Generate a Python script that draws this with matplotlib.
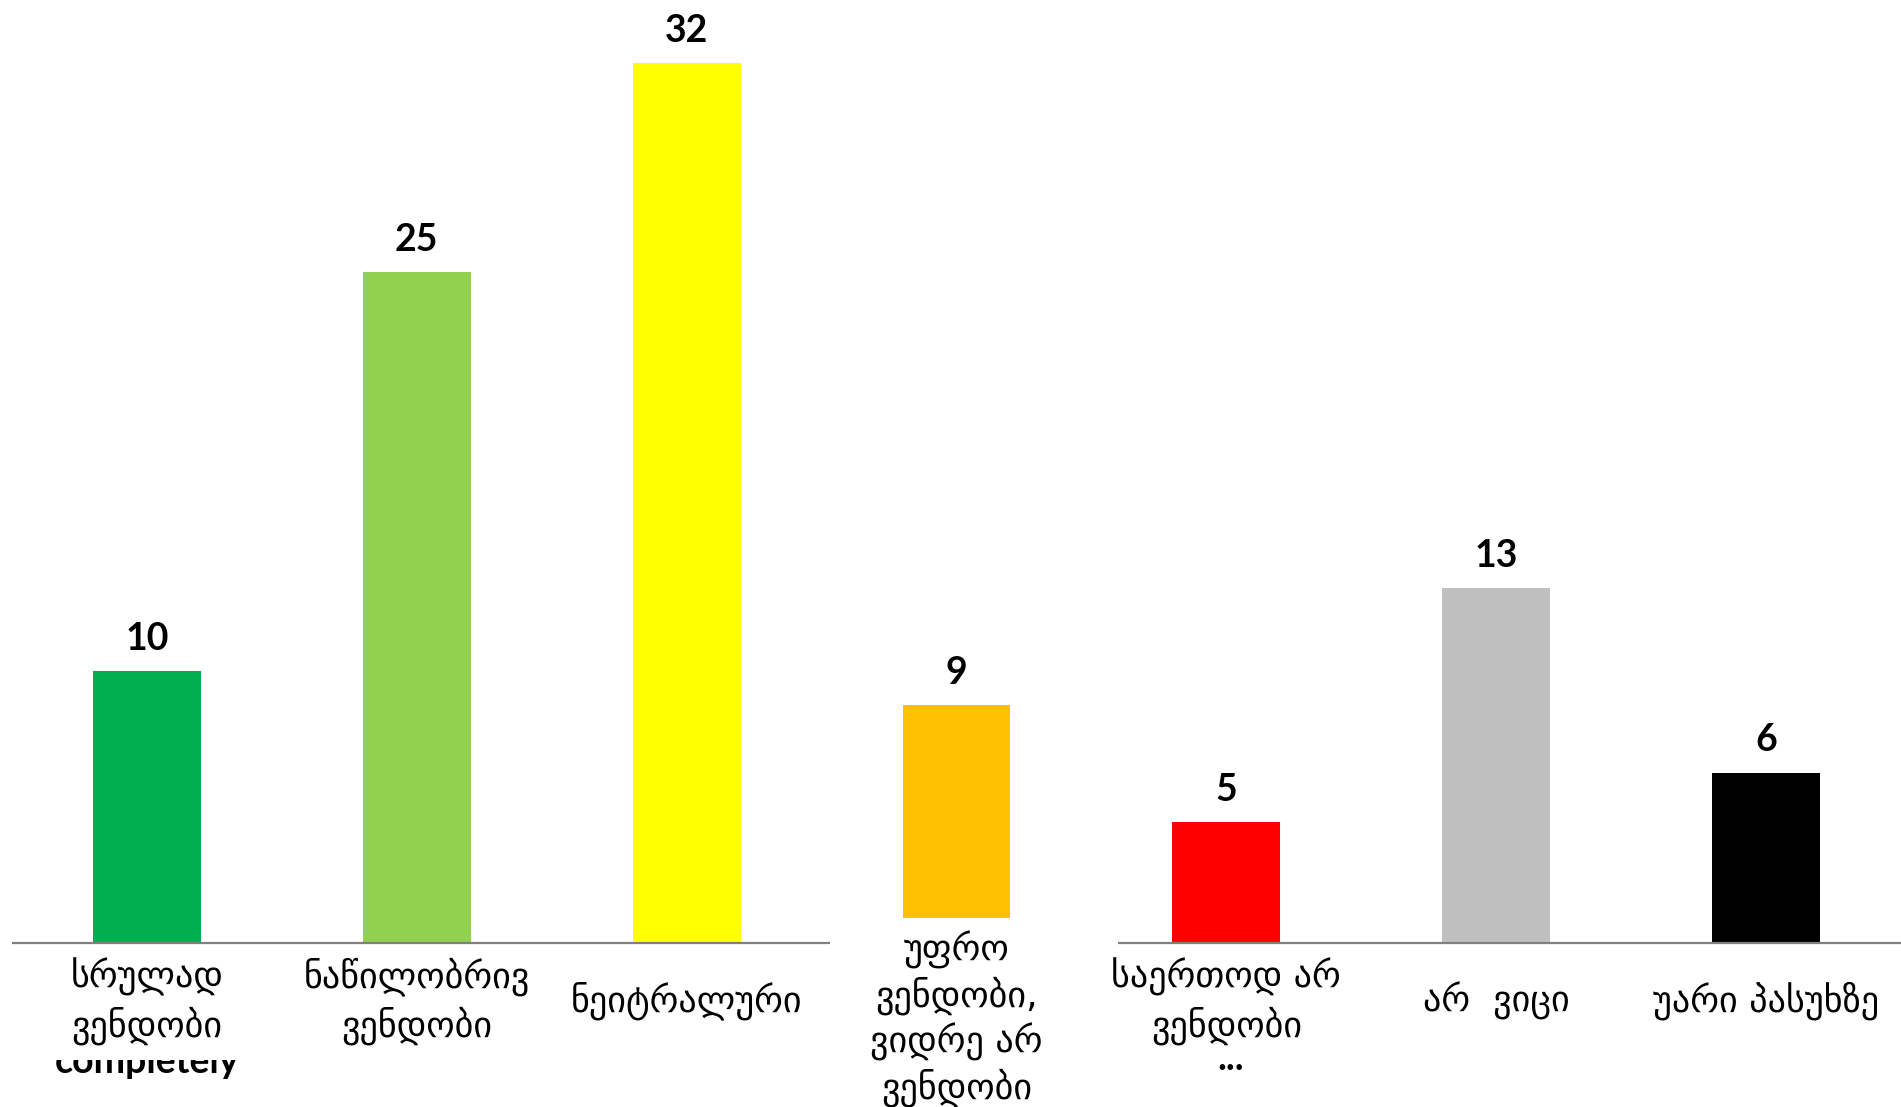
import matplotlib.pyplot as plt
import matplotlib.transforms as mtransforms
from matplotlib.patches import Rectangle

categories = [
    'სრულად\nვენდობი',
    'ნაწილობრივ\nვენდობი',
    'ნეიტრალური',
    'უფრო\nვენდობი,\nვიდრე არ\nვენდობი',
    'საერთოდ არ\nვენდობი',
    'არ  ვიცი',
    'უარი პასუხზე',
]
# bar extents (the 4th bar floats above the baseline), labels as printed
values = [9.9, 24.4, 32.0, 7.75, 4.4, 12.9, 6.2]
bottoms = [0, 0, 0, 0.9, 0, 0, 0]
value_labels = ['10', '25', '32', '9', '5', '13', '6']
bar_colors = ['#00B050', '#92D050', '#FFFF00', '#FFC000', '#FF0000', '#BFBFBF', '#000000']

W, H = 1901, 1107


def main():
    fig = plt.figure(figsize=(W / 100, H / 100), dpi=100)
    fig.patch.set_facecolor('white')
    ax = fig.add_axes([12 / W, 1 - 943 / H, 1 - 12 / W, 943 / H])

    x = list(range(len(values)))
    bars = ax.bar(x, values, width=0.4, bottom=bottoms, color=bar_colors, zorder=2)

    ax.set_xlim(-0.5, 6.5)
    ax.set_ylim(0, 34.3)
    for s in ax.spines.values():
        s.set_visible(False)
    ax.set_xticks([])
    ax.set_yticks([])

    # baseline, broken around the 4th category
    ax.hlines(0, -0.5, 2.53, color='#808080', lw=1.6, clip_on=False, zorder=3)
    ax.hlines(0, 3.6, 6.5, color='#808080', lw=1.6, clip_on=False, zorder=3)

    for rect, lab in zip(bars, value_labels):
        ax.annotate(lab, (rect.get_x() + rect.get_width() / 2, rect.get_y() + rect.get_height()),
                    xytext=(0, 11), textcoords='offset points',
                    ha='center', va='bottom', fontsize=27, fontweight='bold',
                    family=['Lato', 'DejaVu Sans'])

    trans = mtransforms.blended_transform_factory(ax.transData, fig.transFigure)
    for i, lab in enumerate(categories):
        yc = 1 - 1001 / H
        ls = 1.35
        if i == 3:
            yc = 1 - 1019 / H
            ls = 1.25
        ax.text(i, yc, lab, transform=trans, ha='center', va='center',
                fontsize=26, linespacing=ls, family='DejaVu Sans', clip_on=False)

    # leftover text peeking out below two of the labels, top part cut off
    clip = Rectangle((0, 0), 1, 1 - 1060 / H, transform=fig.transFigure,
                     facecolor='none', edgecolor='none')
    t1 = fig.text(147 / W, 1 - 1073 / H, 'completely', ha='center', va='baseline',
                  fontsize=27, fontweight='bold', family=['Lato', 'DejaVu Sans'])
    t1.set_clip_path(clip)
    t2 = fig.text(1231 / W, 1 - 1070 / H, '...', ha='center', va='baseline',
                  fontsize=27, fontweight='bold', family=['Lato', 'DejaVu Sans'])
    t2.set_clip_path(clip)

    fig.savefig('out.png', dpi=100, facecolor='white')


if __name__ == '__main__':
    main()
